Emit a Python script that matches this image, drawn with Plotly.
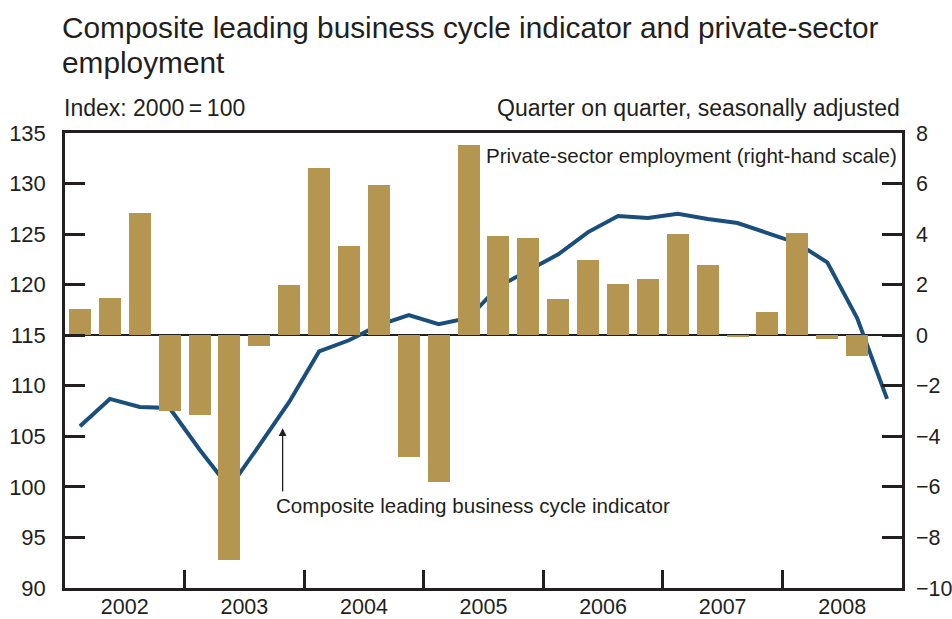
import plotly.graph_objects as go

# Data
quarters = [2002 + q * 0.25 + 0.125 for q in range(28)]
employment = [1.05, 1.48, 4.85, -3.01, -3.17, -8.88, -0.44, 2.00,
              6.63, 3.54, 5.95, -4.81, -5.82, 7.54, 3.94, 3.86,
              1.44, 2.99, 2.04, 2.23, 4.02, 2.79, -0.08, 0.93,
              4.05, -0.15, -0.84]
indicator = [106.0, 108.7, 107.9, 107.8, 103.7, 99.9, 104.1, 108.4,
             113.4, 114.5, 116.0, 117.0, 116.1, 116.7, 119.8, 121.4,
             123.0, 125.2, 126.8, 126.6, 127.0, 126.5, 126.1, 125.1,
             124.1, 122.2, 116.7, 108.7]
year_labels = ["2002", "2003", "2004", "2005", "2006", "2007", "2008"]
year_centers = [2002.5 + i for i in range(7)]
year_bounds = [2003 + i for i in range(6)]
left_ticks = [90, 95, 100, 105, 110, 115, 120, 125, 130, 135]
right_ticks = [-10, -8, -6, -4, -2, 0, 2, 4, 6, 8]

TXT = "#231f20"
AX = "#231f20"
FONT = "Liberation Sans, Arial, sans-serif"

fig = go.Figure()
fig.add_trace(go.Bar(x=quarters[:len(employment)], y=employment, yaxis="y2",
                     width=0.184, marker=dict(color="#b59651", line=dict(width=0)),
                     showlegend=False))
fig.add_trace(go.Scatter(x=quarters, y=indicator, mode="lines",
                         line=dict(color="#1b4f7b", width=4), showlegend=False))

W, H = 952, 619
L, R, T, B = 65, 50, 133, 31
pw, ph = W - L - R, H - T - B

def px(x):
    return (x - L) / pw

def py(y):
    return (H - B - y) / ph

fig.update_layout(
    width=W, height=H,
    margin=dict(l=L, r=R, t=T, b=B, autoexpand=False),
    paper_bgcolor="white", plot_bgcolor="white",
    font=dict(family=FONT, color=TXT, size=22),
    bargap=0,
    xaxis=dict(range=[2002, 2009], tickvals=year_centers, ticktext=year_labels,
               ticks="", showgrid=False, zeroline=False,
               showline=True, linecolor=AX, linewidth=2.5, mirror=True,
               tickfont=dict(size=21.5), ticklabelstandoff=-3,
               minor=dict(tickvals=year_bounds, ticks="inside", ticklen=18,
                          tickwidth=2.5, tickcolor=AX, showgrid=False)),
    yaxis=dict(range=[90, 135], tickvals=left_ticks, ticks="inside", ticklen=20,
               tickwidth=2.5, tickcolor=AX, showgrid=False, zeroline=False,
               showline=True, linecolor=AX, linewidth=2.5,
               tickfont=dict(size=22), ticklabelstandoff=12),
    yaxis2=dict(range=[-10, 8], tickvals=right_ticks, overlaying="y", side="right",
                ticks="inside", ticklen=20, tickwidth=2.5, tickcolor=AX,
                showgrid=False, zeroline=True, zerolinecolor=AX, zerolinewidth=1.5,
                showline=True, linecolor=AX, linewidth=2.5,
                tickfont=dict(size=21.5), ticklabelstandoff=7),
)

ann = [
    dict(text="Composite leading business cycle indicator and private-sector",
         x=px(60), y=py(28), xanchor="left", yanchor="middle", font=dict(size=29.8)),
    dict(text="employment", x=px(60), y=py(62), xanchor="left", yanchor="middle",
         font=dict(size=29.8)),
    dict(text="Index: 2000\u2009=\u2009100", x=px(62), y=py(108), xanchor="left",
         yanchor="middle", font=dict(size=23)),
    dict(text="Quarter on quarter, seasonally adjusted", x=px(902), y=py(108),
         xanchor="right", yanchor="middle", font=dict(size=23)),
    dict(text="Private-sector employment (right-hand scale)", x=px(899), y=py(155),
         xanchor="right", yanchor="middle", font=dict(size=20.6)),
    dict(text="Composite leading business cycle indicator", x=px(274), y=py(505),
         xanchor="left", yanchor="middle", font=dict(size=20.6)),
]
for a in ann:
    a.update(xref="paper", yref="paper", showarrow=False)
    fig.add_annotation(**a)

fig.add_annotation(x=2003.82, y=105.8, ax=2003.82, ay=99.4, xref="x", yref="y",
                   axref="x", ayref="y", showarrow=True, arrowhead=2, arrowsize=1.2,
                   arrowwidth=1.3, arrowcolor=TXT, text="")

fig.write_html("out.html", config={"displayModeBar": False},
               post_script="document.body.style.margin='0';")
